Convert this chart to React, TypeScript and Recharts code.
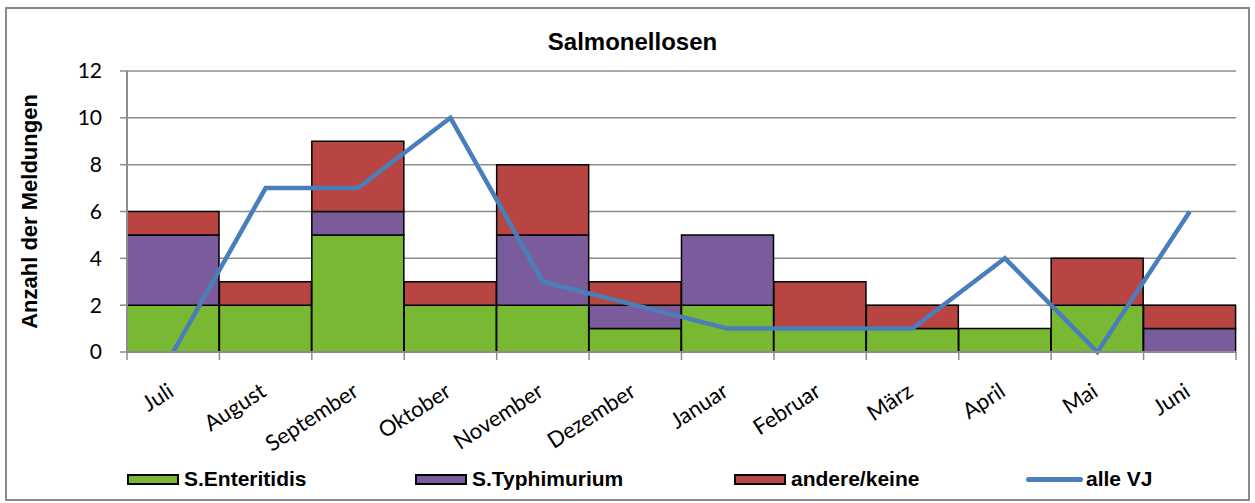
import React from 'react';
import { ComposedChart, Bar, Line, XAxis, YAxis, CartesianGrid, Legend } from 'recharts';

const months = ['Juli', 'August', 'September', 'Oktober', 'November', 'Dezember', 'Januar', 'Februar', 'März', 'April', 'Mai', 'Juni'];
const enteritidis = [2, 2, 5, 2, 2, 1, 2, 1, 1, 1, 2, 0];
const typhimurium = [3, 0, 1, 0, 3, 1, 3, 0, 0, 0, 0, 1];
const andere = [1, 1, 3, 1, 3, 1, 0, 2, 1, 0, 2, 1];
const alleVJ = [0, 7, 7, 10, 3, 2, 1, 1, 1, 4, 0, 6];
const yTicks = [0, 2, 4, 6, 8, 10, 12];

const data = months.map((m, i) => ({
  month: m,
  ent: enteritidis[i],
  typh: typhimurium[i],
  andere: andere[i],
  vj: alleVJ[i],
}));

const GREEN = '#78b833';
const PURPLE = '#7a5c9c';
const RED = '#b94542';
const BLUE = '#4a7ebb';
const AXIS = '#8c8c8c';

const XTick = (props: any) => {
  const { x, y, payload, index, visibleTicksCount, width } = props;
  const count = visibleTicksCount || months.length;
  const half = payload && payload.offset ? payload.offset : (width ? width / count / 2 : 0);
  const isLast = index === count - 1;
  return (
    <g>
      {half > 0 && <line x1={x - half} x2={x - half} y1={y - 8} y2={y} stroke={AXIS} strokeWidth={1.5} />}
      {half > 0 && isLast && <line x1={x + half} x2={x + half} y1={y - 8} y2={y} stroke={AXIS} strokeWidth={1.5} />}
      <g transform={`translate(${x + 2},${y + 35})`}>
        <text
          textAnchor="end"
          transform="rotate(-33)"
          fontFamily="Lato, 'Open Sans', sans-serif"
          fontSize={22}
          fill="#000"
        >
          {payload.value}
        </text>
      </g>
    </g>
  );
};

const legendItems = [
  { label: 'S.Enteritidis', color: GREEN, type: 'rect', left: 127 },
  { label: 'S.Typhimurium', color: PURPLE, type: 'rect', left: 415 },
  { label: 'andere/keine', color: RED, type: 'rect', left: 734 },
  { label: 'alle VJ', color: BLUE, type: 'line', left: 1026 },
];

const LegendContent = () => (
  <div style={{ position: 'relative', height: 24, width: 1255 }}>
    {legendItems.map((it) => (
      <div
        key={it.label}
        style={{ position: 'absolute', left: it.left, top: 0, height: 24, display: 'flex', alignItems: 'center', whiteSpace: 'nowrap' }}
      >
        {it.type === 'rect' ? (
          <div style={{ width: 48, height: 7, background: it.color, border: '2px solid #000', marginRight: 5 }} />
        ) : (
          <div style={{ width: 57, height: 5, background: it.color, borderRadius: 3, marginRight: 3 }} />
        )}
        <span style={{ fontFamily: "'Liberation Sans', Arial, sans-serif", fontWeight: 'bold', fontSize: 21, color: '#000' }}>
          {it.label}
        </span>
      </div>
    ))}
  </div>
);

export default function App() {
  return (
    <div style={{ position: 'absolute', left: 0, top: 0, width: 1255, height: 503, background: '#fff' }}>
      <div
        style={{
          position: 'absolute',
          left: 5,
          top: 7,
          width: 1241,
          height: 490,
          border: '2px solid #8a8a8a',
          boxSizing: 'content-box',
        }}
      />
      <div
        style={{
          position: 'absolute',
          left: 0,
          top: 28,
          width: 1255,
          textAlign: 'center',
          fontFamily: "'Liberation Sans', Arial, sans-serif",
          fontWeight: 'bold',
          fontSize: 24,
          paddingLeft: 10,
          boxSizing: 'border-box',
        }}
      >
        Salmonellosen
      </div>
      <ComposedChart
        width={1255}
        height={503}
        data={data}
        margin={{ top: 71, right: 19, left: 0, bottom: 0 }}
        barCategoryGap={0}
        barGap={0}
        style={{ position: 'absolute', left: 0, top: 0 }}
      >
        <CartesianGrid vertical={false} stroke={AXIS} strokeWidth={1.5} />
        <XAxis
          dataKey="month"
          height={127}
          interval={0}
          tick={<XTick />}
          tickLine={false}
          tickSize={6}
          tickMargin={2}
          axisLine={{ stroke: AXIS, strokeWidth: 2 }}
        />
        <YAxis
          width={127}
          domain={[0, 12]}
          ticks={yTicks}
          interval={0}
          tickLine={{ stroke: AXIS, strokeWidth: 1.5 }}
          tickSize={7}
          tickMargin={18}
          axisLine={{ stroke: AXIS, strokeWidth: 2 }}
          tick={{ fontFamily: "Lato, 'Open Sans', sans-serif", fontSize: 21, fill: '#000' }}
          label={{
            value: 'Anzahl der Meldungen',
            angle: -90,
            position: 'insideLeft',
            offset: 29,
            style: {
              textAnchor: 'middle',
              fontFamily: "'Liberation Sans', Arial, sans-serif",
              fontWeight: 'bold',
              fontSize: 22,
              fill: '#000',
            },
          }}
        />
        <Legend
          verticalAlign="bottom"
          content={<LegendContent />}
          wrapperStyle={{ position: 'absolute', top: 467, left: 0, width: 1255, height: 24 }}
        />
        <Bar dataKey="ent" name="S.Enteritidis" stackId="a" fill={GREEN} stroke="#000" strokeWidth={1.5} isAnimationActive={false} />
        <Bar dataKey="typh" name="S.Typhimurium" stackId="a" fill={PURPLE} stroke="#000" strokeWidth={1.5} isAnimationActive={false} />
        <Bar dataKey="andere" name="andere/keine" stackId="a" fill={RED} stroke="#000" strokeWidth={1.5} isAnimationActive={false} />
        <Line
          dataKey="vj"
          name="alle VJ"
          type="linear"
          stroke={BLUE}
          strokeWidth={4.5}
          dot={false}
          activeDot={false}
          isAnimationActive={false}
        />
      </ComposedChart>
    </div>
  );
}
